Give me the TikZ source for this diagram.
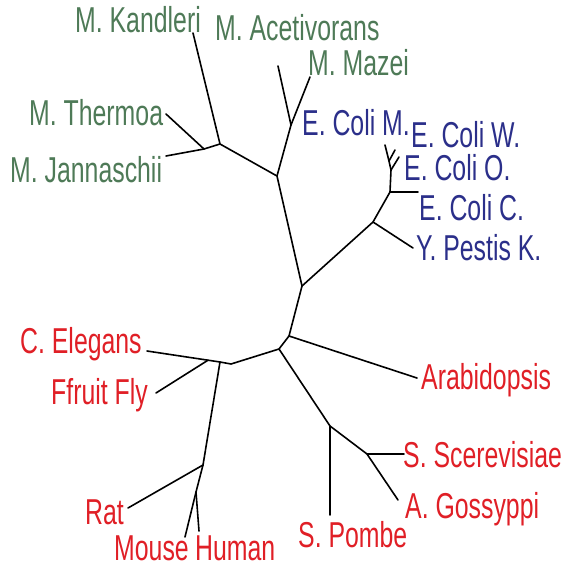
\documentclass[tikz,border=0pt]{standalone}
\usepackage{fontspec}
\newfontfamily\lab[FakeStretch=0.69]{Liberation Sans}
\definecolor{arch}{HTML}{4E7A57}
\definecolor{bact}{HTML}{2B2F8A}
\definecolor{euk}{HTML}{E01F26}
\tikzset{
  edge/.style={line width=1.6pt, line cap=round, line join=round},
  leaf/.style={anchor=base west, inner sep=0pt, font=\lab\fontsize{36}{40}\selectfont},
  archlab/.style={leaf, text=arch},
  bactlab/.style={leaf, text=bact},
  euklab/.style={leaf, text=euk}
}
\begin{document}
\begin{tikzpicture}[x=1pt,y=-1pt]
\useasboundingbox (0,0) rectangle (565,568);
% tree coordinates
\coordinate (kt) at (193,33);
\coordinate (a1) at (220,144);
\coordinate (a0) at (204,149);
\coordinate (tt) at (166,114);
\coordinate (jt) at (166,156);
\coordinate (a2) at (277,176);
\coordinate (ac) at (278,66);
\coordinate (am) at (291,125);
\coordinate (mz) at (310,77);
\coordinate (r1) at (302,286);
\coordinate (b1) at (373,222);
\coordinate (yp) at (413,248);
\coordinate (b2) at (390,192);
\coordinate (ec) at (418,192);
\coordinate (b3) at (391,170);
\coordinate (b4) at (389,161);
\coordinate (em) at (385,145);
\coordinate (ew) at (395,150);
\coordinate (eo) at (399,157);
\coordinate (r2) at (289,336);
\coordinate (ar) at (417,378);
\coordinate (r3) at (279,349);
\coordinate (f1) at (330,426);
\coordinate (sp) at (330,515);
\coordinate (f2) at (367,454);
\coordinate (ss) at (404,454);
\coordinate (ag) at (398,500);
\coordinate (m1) at (231,364);
\coordinate (m2) at (220,362);
\coordinate (m3) at (208,360.2);
\coordinate (ce) at (147,351);
\coordinate (ff) at (156,393);
\coordinate (m4) at (203,465);
\coordinate (rt) at (128,508);
\coordinate (m5) at (196,492);
\coordinate (mo) at (185,537);
\coordinate (hu) at (199,531);
% edges
\draw[edge] (kt) -- (a1) -- (a2) -- (r1) -- (r2) -- (r3) -- (m1) -- (m2) -- (ce);
\draw[edge] (a1) -- (a0) -- (tt);
\draw[edge] (a0) -- (jt);
\draw[edge] (a2) -- (am) -- (ac);
\draw[edge] (am) -- (mz);
\draw[edge] (r1) -- (b1) -- (yp);
\draw[edge] (b1) -- (b2) -- (ec);
\draw[edge] (b2) -- (b3) -- (b4) -- (em);
\draw[edge] (b4) -- (ew);
\draw[edge] (b3) -- (eo);
\draw[edge] (r2) -- (ar);
\draw[edge] (r3) -- (f1) -- (sp);
\draw[edge] (f1) -- (f2) -- (ss);
\draw[edge] (f2) -- (ag);
\draw[edge] (m3) -- (ff);
\draw[edge] (m2) -- (m4) -- (rt);
\draw[edge] (m4) -- (m5) -- (mo);
\draw[edge] (m5) -- (hu);
% labels
\node[archlab] (lkan) at (75,32) {M. Kandleri};
\node[archlab] (lace) at (215,40) {M. Acetivorans};
\node[archlab] (lmaz) at (308,75) {M. Mazei};
\node[archlab] (lthe) at (29,125) {M. Thermoa};
\node[archlab] (ljan) at (10,182) {M. Jannaschii};
\node[bactlab] (lecm) at (302,135) {E. Coli M.};
\node[bactlab] (lecw) at (411,147) {E. Coli W.};
\node[bactlab] (leco) at (404,180) {E. Coli O.};
\node[bactlab] (lecc) at (419,220) {E. Coli C.};
\node[bactlab] (lyps) at (416,260) {Y. Pestis K.};
\node[euklab] (lele) at (20,353) {C. Elegans};
\node[euklab] (lffl) at (51,404) {Ffruit Fly};
\node[euklab] (lrat) at (85,524) {Rat};
\node[euklab] (lmou) at (114,560) {Mouse};
\node[euklab] (lhum) at (195,560) {Human};
\node[euklab] (lara) at (421,389) {Arabidopsis};
\node[euklab] (lsce) at (403,467) {S. Scerevisiae};
\node[euklab] (lgos) at (405,518) {A. Gossyppi};
\node[euklab] (lpom) at (298,547) {S. Pombe};
\end{tikzpicture}
\end{document}
